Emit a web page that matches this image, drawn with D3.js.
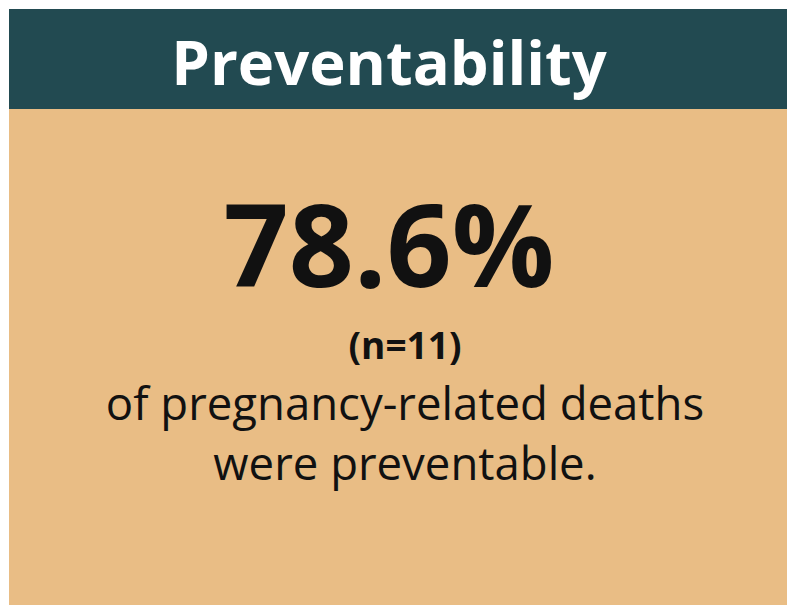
<!DOCTYPE html>
<html>
<head>
<meta charset="utf-8">
<script src="https://cdn.jsdelivr.net/npm/d3@7"></script>
<style>
  body { margin: 0; background: #fff; }
</style>
</head>
<body>
<svg id="chart" width="787" height="605"></svg>
<script>
const title = ['Preventability']
const statValue = [78.6]
const statCount = [11]
const captionLines = ['of pregnancy-related deaths', 'were preventable.']

const svg = d3.select('#chart')
const W = 787, H = 605
const fmt = d3.format('.1f')

// panel
svg.append('rect').attr('x', 9).attr('y', 9).attr('width', W - 9).attr('height', H - 9).attr('fill', '#E9BD85')
svg.append('rect').attr('x', 9).attr('y', 9).attr('width', W - 9).attr('height', 100).attr('fill', '#224A51')

const font = "'Open Sans', sans-serif"

svg.selectAll('text.title')
  .data(title).enter().append('text')
  .attr('class', 'title')
  .attr('x', 389).attr('y', 85)
  .attr('text-anchor', 'middle')
  .style('font', `bold 61.5px ${font}`)
  .attr('fill', '#fff')
  .text(d => d)

svg.selectAll('text.stat')
  .data(statValue).enter().append('text')
  .attr('class', 'stat')
  .attr('x', 389).attr('y', 287)
  .attr('text-anchor', 'middle')
  .style('font', `bold 114px ${font}`)
  .attr('fill', '#111')
  .text(d => fmt(d) + '%')

svg.selectAll('text.count')
  .data(statCount).enter().append('text')
  .attr('class', 'count')
  .attr('x', 405).attr('y', 359)
  .attr('text-anchor', 'middle')
  .style('font', `bold 37px ${font}`)
  .attr('fill', '#111')
  .text(d => `(n=${d})`)

const lineY = d3.scalePoint().domain(d3.range(captionLines.length)).range([420, 480])

svg.selectAll('text.caption')
  .data(captionLines).enter().append('text')
  .attr('class', 'caption')
  .attr('x', 405).attr('y', (d, i) => lineY(i))
  .attr('text-anchor', 'middle')
  .style('font', `45.5px ${font}`)
  .attr('fill', '#111')
  .text(d => d)
</script>
</body>
</html>
